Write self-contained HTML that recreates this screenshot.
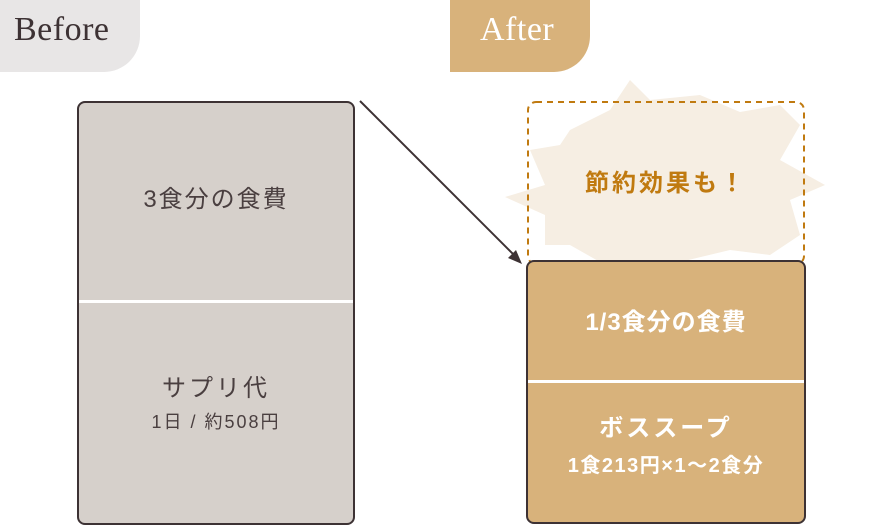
<!DOCTYPE html>
<html><head><meta charset="utf-8"><style>
body{margin:0;width:880px;height:504px;overflow:hidden;background:#fff;position:relative;font-family:"Liberation Sans","Noto Sans CJK JP",sans-serif}
.t{position:absolute;left:0;width:100%;text-align:center;white-space:nowrap}
</style></head><body>
<div style="position:absolute;left:0;top:0;width:140px;height:72px;background:#e8e6e6;border-bottom-right-radius:36px"></div>
<div style="position:absolute;left:14px;top:11px;font:34px 'Liberation Serif',serif;letter-spacing:0.5px;color:#3d3234">Before</div>
<div style="position:absolute;left:450px;top:0;width:140px;height:72px;background:#d8b27b;border-bottom-right-radius:36px"></div>
<div style="position:absolute;left:480px;top:11px;font:34px 'Liberation Serif',serif;letter-spacing:0.5px;color:#fff">After</div>

<svg width="880" height="504" style="position:absolute;left:0;top:0">
<polygon fill="#f6eee3" points="630,80 650,100 700,95 740,112 780,105 800,125 780,160 825,185 790,200 800,235 770,255 730,250 680,262 600,262 570,245 545,245 545,215 505,197 545,185 530,150 560,145 570,130 610,110"/>
<rect x="528" y="102" width="276" height="162" rx="8" fill="none" stroke="#c07a10" stroke-width="2" stroke-dasharray="6,5"/>
<line x1="360" y1="101" x2="514" y2="255" stroke="#3d3234" stroke-width="2"/>
<polygon points="522,264 508,258 516,250" fill="#3d3234"/>
</svg>

<div style="position:absolute;left:77px;top:101px;width:274px;height:420px;background:#d6d0cb;border:2px solid #3d3234;border-radius:8px;color:#4a3f40;overflow:hidden">
 <div class="t" style="top:76px;font-size:24px;letter-spacing:2px">3食分の食費</div>
 <div style="position:absolute;left:0;top:197px;width:100%;height:3px;background:#fff"></div>
 <div class="t" style="top:265px;font-size:24px;letter-spacing:3px">サプリ代</div>
 <div class="t" style="top:305px;font-size:18px;letter-spacing:2px">1日 / 約508円</div>
</div>
<div style="position:absolute;left:526px;top:260px;width:276px;height:260px;background:#d8b27b;border:2px solid #3d3234;border-radius:8px;color:#fff;font-weight:bold;overflow:hidden">
 <div class="t" style="top:40px;font-size:24px;letter-spacing:1px">1/3食分の食費</div>
 <div style="position:absolute;left:0;top:118px;width:100%;height:3px;background:#fff"></div>
 <div class="t" style="top:146px;font-size:24px;letter-spacing:3px">ボススープ</div>
 <div class="t" style="top:187px;font-size:20px;letter-spacing:1.5px">1食213円×1〜2食分</div>
</div>
<div class="t" style="left:527px;width:278px;top:163px;font-size:24px;font-weight:bold;color:#c07a10;letter-spacing:3px">節約効果も！</div>
</body></html>
